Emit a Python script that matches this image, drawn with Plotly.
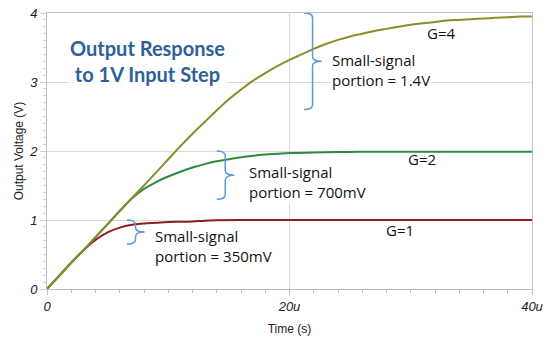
import plotly.graph_objects as go

# ---- data (time in microseconds, voltage in volts) ----
t_g4 = [0, 1, 2, 3, 4, 5, 6, 7, 8, 9, 10, 11, 12, 13, 14, 15, 16, 17, 18, 19, 20,
        21, 22, 23, 24, 25, 26, 27, 28, 29, 30, 31, 32, 33, 34, 35, 36, 37, 38, 39, 40]
v_g4 = [0, 0.19, 0.38, 0.56, 0.75, 0.94, 1.13, 1.32, 1.50, 1.69, 1.88, 2.07, 2.25, 2.42,
        2.59, 2.75, 2.89, 3.02, 3.13, 3.23, 3.32, 3.40, 3.48, 3.55, 3.61, 3.66, 3.70, 3.74,
        3.77, 3.80, 3.83, 3.85, 3.87, 3.89, 3.90, 3.91, 3.92, 3.93, 3.94, 3.95, 3.95]

t_g2 = [0, 1, 2, 3, 4, 5, 6, 7, 8, 9, 10, 11, 12, 13, 14, 15, 16, 17, 18, 19, 20,
        22, 24, 26, 30, 35, 40]
v_g2 = [0, 0.19, 0.38, 0.56, 0.75, 0.94, 1.13, 1.31, 1.45, 1.55, 1.63, 1.70, 1.76, 1.81,
        1.85, 1.88, 1.91, 1.93, 1.95, 1.96, 1.97, 1.98, 1.985, 1.99, 1.99, 1.99, 1.99]

t_g1 = [0, 1, 2, 3, 4, 5, 6, 7, 8, 9, 10, 11, 12, 13, 14, 16, 20, 30, 40]
v_g1 = [0, 0.19, 0.38, 0.56, 0.71, 0.82, 0.89, 0.93, 0.95, 0.96, 0.97, 0.975, 0.98,
        0.99, 0.995, 1.0, 1.0, 1.0, 1.0]

# small-signal brace spans: (time position, low V, high V)
brace_g4 = (21.9, 2.6, 4.0)
brace_g2 = (14.7, 1.3, 2.0)
brace_g1 = (7.3, 0.65, 1.0)

x_tickvals = [0, 20, 40]
x_ticktext = ["0", "20u", "40u"]
y_tickvals = [0, 1, 2, 3, 4]

fig = go.Figure()
fig.add_trace(go.Scatter(x=t_g1, y=v_g1, mode="lines", line=dict(color="#8B1E22", width=2),
                         line_shape="spline", showlegend=False))
fig.add_trace(go.Scatter(x=t_g2, y=v_g2, mode="lines", line=dict(color="#2E8B3E", width=2),
                         line_shape="spline", showlegend=False))
fig.add_trace(go.Scatter(x=t_g4, y=v_g4, mode="lines", line=dict(color="#8C8C2A", width=2),
                         line_shape="spline", showlegend=False))


def brace_path(b, hook=0.7, tip=0.75, r=0.07):
    x0, lo, hi = b
    mid = (lo + hi) / 2
    return (f"M {x0-hook},{hi} Q {x0},{hi} {x0},{hi-r} L {x0},{mid+r} "
            f"Q {x0},{mid} {x0+tip},{mid} Q {x0},{mid} {x0},{mid-r} "
            f"L {x0},{lo+r} Q {x0},{lo} {x0-hook},{lo}")


for b in (brace_g4, brace_g2, brace_g1):
    fig.add_shape(type="path", xref="x", yref="y", path=brace_path(b),
                  line=dict(color="#5B9BD5", width=1.5))

afont = dict(family="'Open Sans', sans-serif", size=15, color="#111111")
fig.add_annotation(x=8.3, y=3.31, xref="x", yref="y", showarrow=False,
                   text="<b>Output Response<br>to 1V Input Step</b>", align="center",
                   font=dict(family="Lato, 'Open Sans', sans-serif", size=20, color="#2E6198"),
                   bgcolor="white")
fig.add_annotation(x=23.3, y=3.17, xref="x", yref="y", showarrow=False, xanchor="left",
                   text="Small-signal<br>portion = 1.4V", align="left", font=afont, bgcolor="white")
fig.add_annotation(x=16.5, y=1.556, xref="x", yref="y", showarrow=False, xanchor="left",
                   text="Small-signal<br>portion = 700mV", align="left", font=afont, bgcolor="white")
fig.add_annotation(x=8.75, y=0.63, xref="x", yref="y", showarrow=False, xanchor="left",
                   text="Small-signal<br>portion = 350mV", align="left", font=afont, bgcolor="white")
fig.add_annotation(x=32.5, y=3.71, xref="x", yref="y", showarrow=False, text="G=4", font=afont)
fig.add_annotation(x=30.9, y=1.88, xref="x", yref="y", showarrow=False, text="G=2", font=afont)
fig.add_annotation(x=29.1, y=0.86, xref="x", yref="y", showarrow=False, text="G=1", font=afont)

tickfont = dict(family="Liberation Sans, Arial, sans-serif", size=13, color="#222222", style="italic")
titlefont = dict(family="Liberation Sans, Arial, sans-serif", size=12, color="#222222")
fig.update_layout(
    width=546, height=339,
    margin=dict(l=47, r=14, t=13, b=50),
    paper_bgcolor="white", plot_bgcolor="white",
    xaxis=dict(range=[0, 40], tickvals=x_tickvals, ticktext=x_ticktext, tickfont=tickfont,
               automargin=False,
               showgrid=True, gridcolor="#D9D9D9", gridwidth=1, zeroline=False,
               showline=True, linecolor="#C0C0C0", linewidth=1, mirror=True,
               ticks="outside", ticklen=5, tickcolor="#BFBFBF",
               minor=dict(dtick=2, ticks="outside", ticklen=3, tickcolor="#BFBFBF", showgrid=False),
               title=dict(text="Time (s)", standoff=12, font=titlefont)),
    yaxis=dict(range=[0, 4], tickvals=y_tickvals, tickfont=tickfont,
               automargin=False,
               showgrid=True, gridcolor="#D9D9D9", gridwidth=1, zeroline=False,
               showline=True, linecolor="#C0C0C0", linewidth=1, mirror=True,
               ticks="outside", ticklen=6, tickcolor="#D0D0D0",
               minor=dict(dtick=0.1, ticks="outside", ticklen=3, tickcolor="#CFCFCF", showgrid=False),
               title=dict(text="Output Voltage (V)", standoff=2, font=titlefont)),
)

fig.write_html("out.html", config={"displayModeBar": False},
               post_script="document.body.style.margin='0px';document.body.style.overflow='hidden';")
